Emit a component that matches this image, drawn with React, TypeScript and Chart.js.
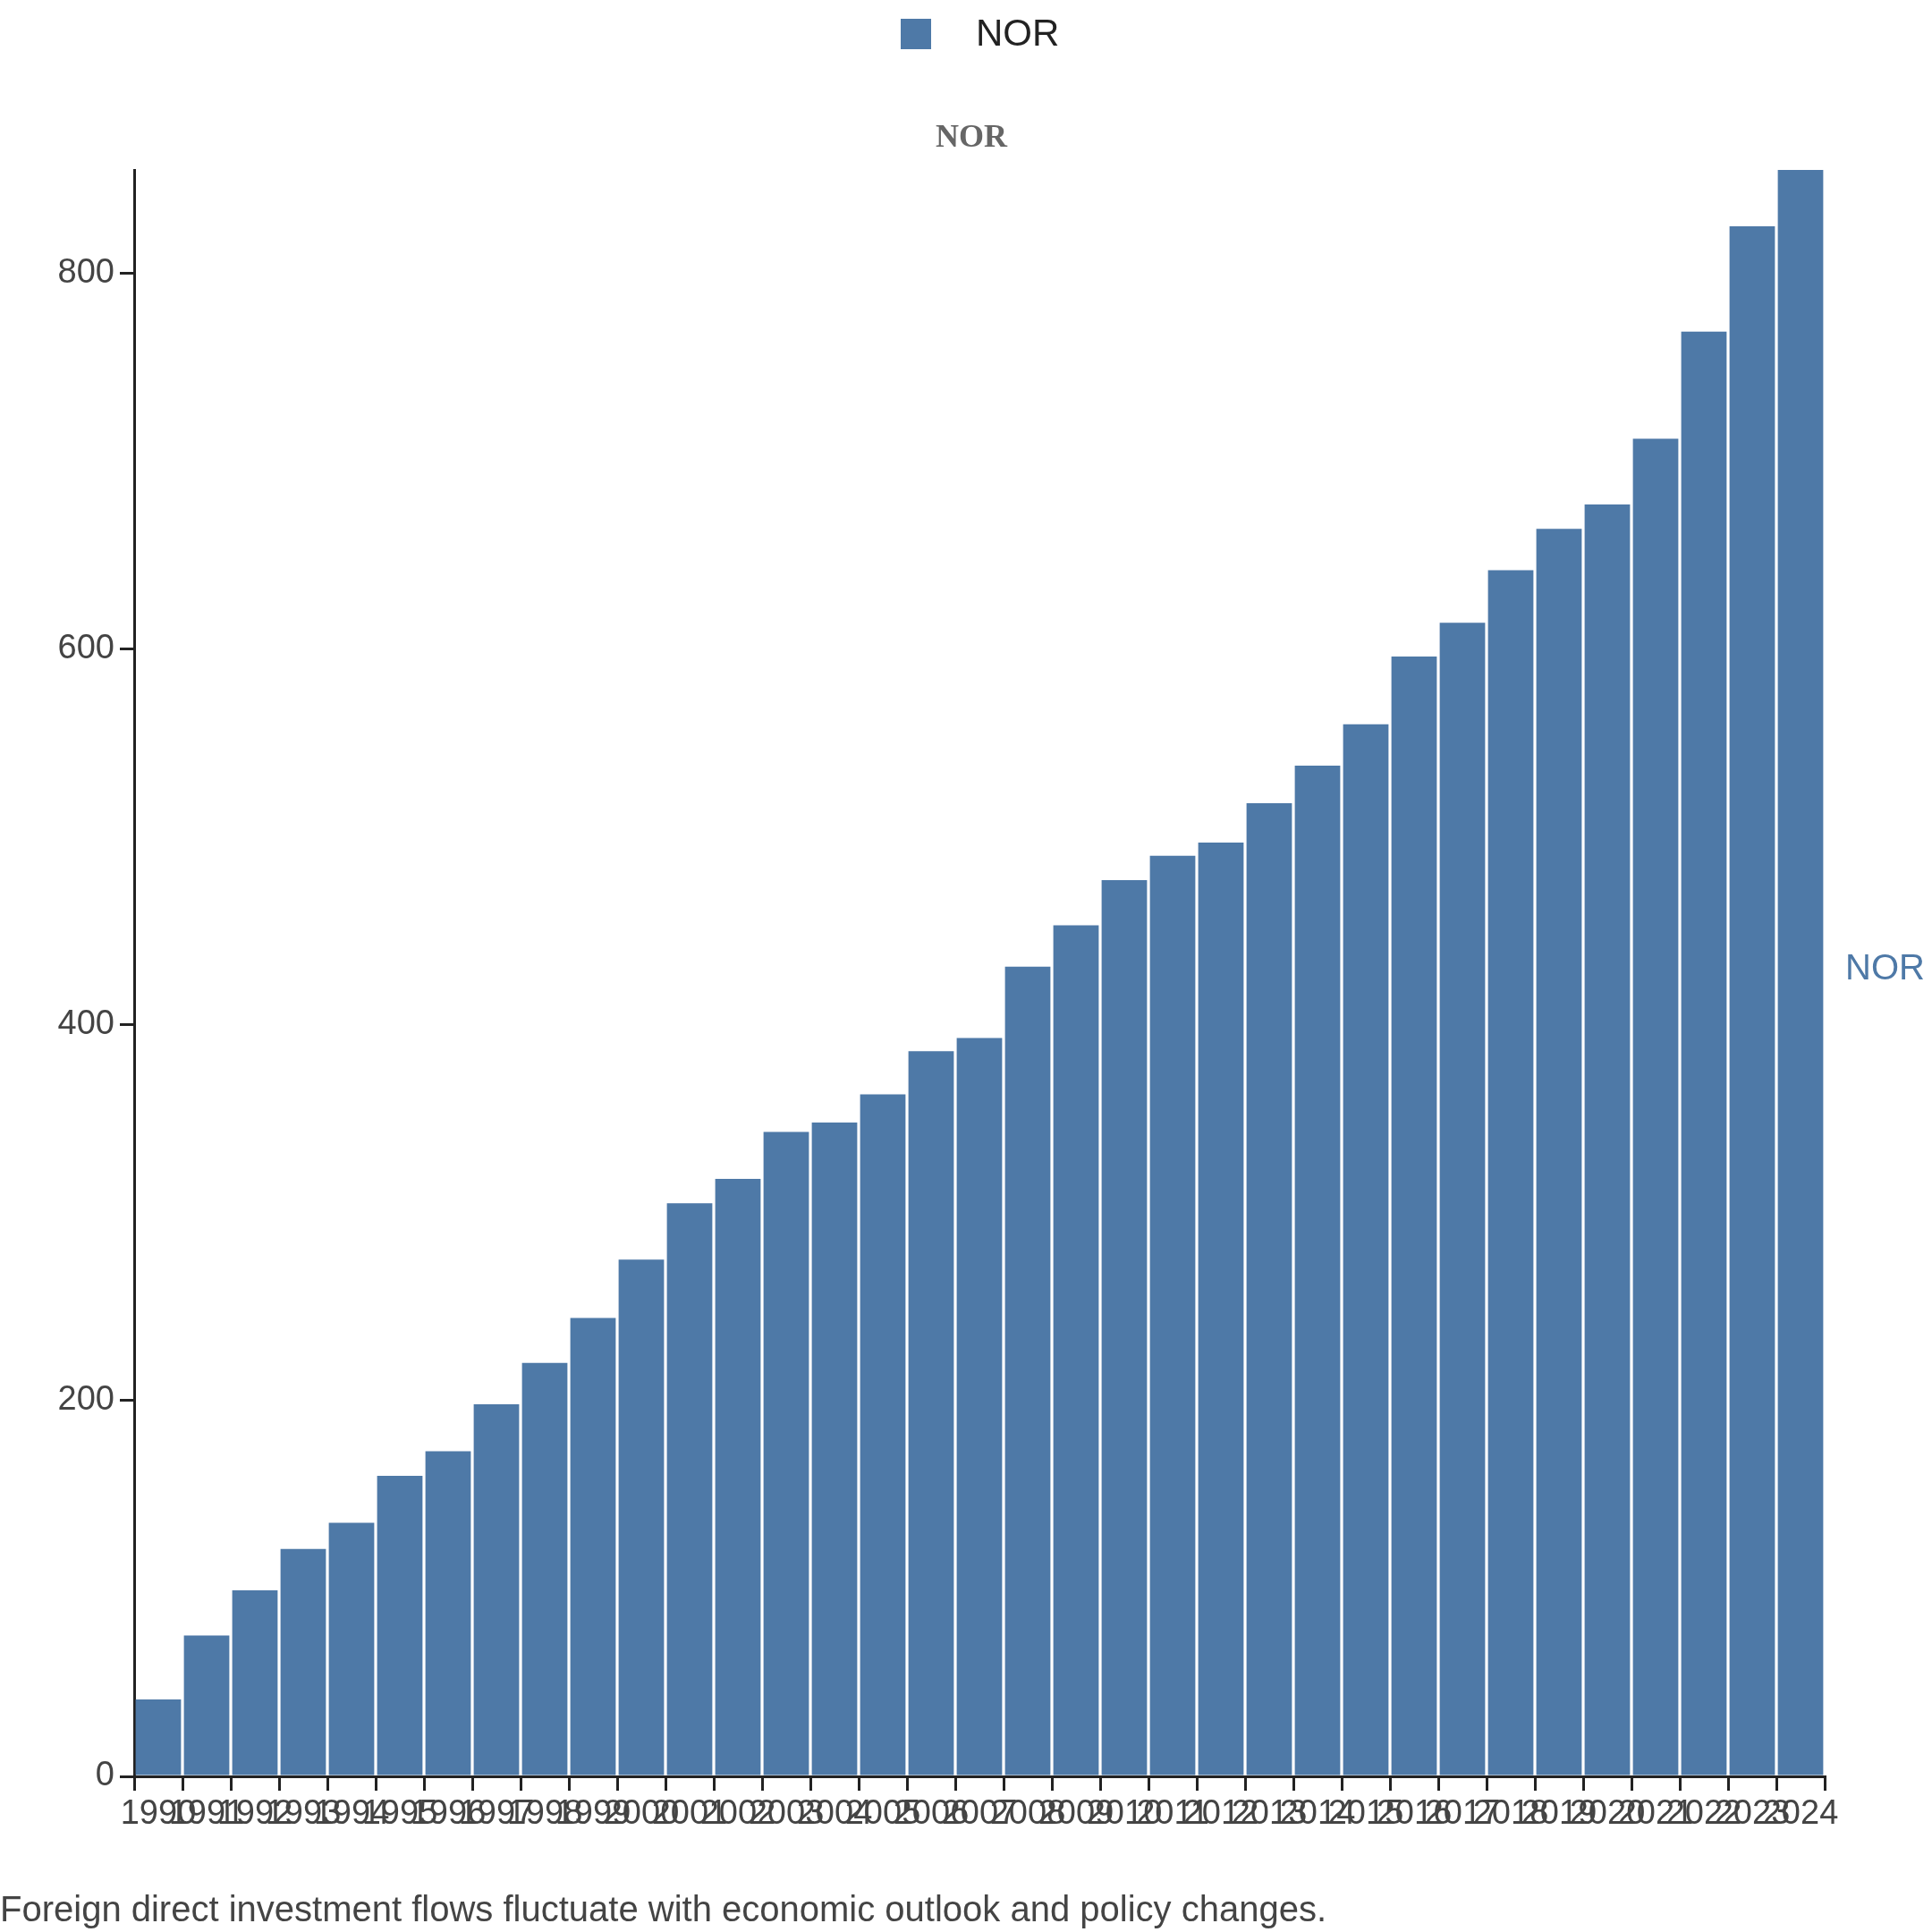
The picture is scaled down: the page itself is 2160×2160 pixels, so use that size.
import React, { useEffect, useRef } from "react";
import { Chart, registerables } from "chart.js";
Chart.register(...registerables);

const years = ["1990","1991","1992","1993","1994","1995","1996","1997","1998","1999","2000","2001","2002","2003","2004","2005","2006","2007","2008","2009","2010","2011","2012","2013","2014","2015","2016","2017","2018","2019","2020","2021","2022","2023","2024"];
const norValues = [41,75,99,121,135,160,173,198,220,244,275,305,318,343,348,363,386,393,431,453,477,490,497,518,538,560,596,614,642,664,677,712,769,825,855];
const yTicks = [0,200,400,600,800];

const BLUE = "#4e79a7";
const FONT = "'Liberation Sans', Arial, sans-serif";

export default function App() {
  const ref = useRef<HTMLCanvasElement>(null);
  useEffect(() => {
    const overlay = {
      id: "overlay",
      afterDraw(c: any) {
        const ctx = c.ctx;
        ctx.save();
        ctx.fillStyle = BLUE;
        ctx.fillRect(1007, 21, 34, 34);
        ctx.fillStyle = "#222";
        ctx.font = `42px ${FONT}`;
        ctx.textAlign = "left";
        ctx.textBaseline = "middle";
        ctx.fillText("NOR", 1091, 39);
        ctx.fillStyle = "#666";
        ctx.font = `bold 36px 'Liberation Serif', 'DejaVu Serif', serif`;
        ctx.textAlign = "center";
        ctx.fillText("NOR", 1086, 155);
        ctx.fillStyle = BLUE;
        ctx.font = `40px ${FONT}`;
        ctx.textAlign = "left";
        ctx.fillText("NOR", 2063, 1084);
        ctx.fillStyle = "#444";
        ctx.font = `40px ${FONT}`;
        ctx.fillText("Foreign direct investment flows fluctuate with economic outlook and policy changes.", 0, 2137);
        ctx.restore();
      },
    };
    const chart = new Chart(ref.current!, {
      type: "bar",
      data: {
        labels: years,
        datasets: [{ label: "NOR", data: norValues, backgroundColor: BLUE, barPercentage: 0.94, categoryPercentage: 1 }],
      },
      options: {
        animation: false,
        responsive: false,
        layout: { padding: { top: 190, right: 120, left: 0, bottom: 0 } },
        plugins: { legend: { display: false }, title: { display: false }, tooltip: { enabled: false } },
        scales: {
          x: {
            offset: true,
            grid: { display: true, drawOnChartArea: false, offset: true, color: "#222", tickLength: 16, lineWidth: 3 },
            border: { display: true, color: "#222", width: 3 },
            ticks: { autoSkip: false, maxRotation: 0, minRotation: 0, color: "#444", font: { size: 38, family: FONT }, padding: 4 },
            afterFit: (s: any) => { s.height = 174; },
          },
          y: {
            min: 0,
            max: 855,
            afterBuildTicks: (s: any) => { s.ticks = yTicks.map((v) => ({ value: v })); },
            grid: { display: true, drawOnChartArea: false, color: "#222", tickLength: 16, lineWidth: 3 },
            border: { display: true, color: "#222", width: 3 },
            ticks: { color: "#444", font: { size: 38, family: FONT }, padding: 6 },
            afterFit: (s: any) => { s.width = 150; },
          },
        },
      },
      plugins: [overlay],
    });
    return () => chart.destroy();
  }, []);
  return (
    <div style={{ position: "fixed", left: 0, top: 0, width: 2160, height: 2160, background: "#fff" }}>
      <canvas ref={ref} width={2160} height={2160} style={{ width: 2160, height: 2160 }} />
    </div>
  );
}
